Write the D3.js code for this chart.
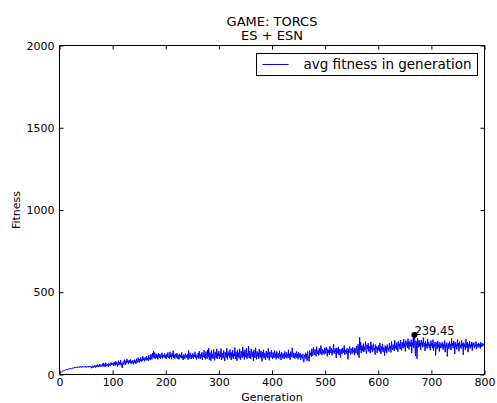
<!DOCTYPE html>
<html>
<head>
<meta charset="utf-8">
<script src="https://cdn.jsdelivr.net/npm/d3@7"></script>
<style>
  html, body { margin: 0; padding: 0; background: #fff; }
  svg text { font-family: "DejaVu Sans", sans-serif; fill: #000; }
</style>
</head>
<body>
<svg id="chart" width="497" height="403"></svg>
<script>
// Average fitness per generation (generations 0..799)
const fitness = [
  2, 8, 12, 15, 14, 19, 22, 20, 25, 24, 27, 29, 26, 31, 30, 28, 33, 35, 31, 36,
  34, 38, 36, 33, 39, 41, 37, 40, 44, 39, 42, 46, 41, 45, 43, 48, 44, 47, 42, 49,
  45, 48, 43, 50, 46, 44, 49, 47, 52, 45, 48, 43, 50, 47, 51, 44, 49, 46, 52, 48,
  38, 47, 53, 41, 50, 44, 55, 48, 42, 57, 46, 52, 60, 45, 55, 49, 63, 51, 47, 58,
  54, 66, 48, 70, 52, 61, 45, 72, 56, 50, 64, 58, 47, 68, 55, 62, 51, 74, 59, 66,
  58, 70, 52, 77, 63, 55, 81, 60, 72, 49, 67, 84, 57, 74, 62, 88, 55, 70, 40, 66,
  78, 60, 90, 72, 58, 84, 68, 95, 74, 82, 63, 88, 76, 70, 92, 66, 80, 73, 86, 62,
  78, 90, 70, 84, 65, 96, 80, 74, 102, 86, 72, 94, 82, 105, 78, 90, 84, 110, 88, 96,
  80, 104, 92, 86, 112, 90, 99, 84, 118, 94, 102, 88, 124, 100, 92, 130, 106, 142, 98, 134,
  110, 96, 126, 102, 118, 92, 130, 108, 100, 124, 96, 114, 106, 132, 98, 120, 110, 104, 128, 100,
  116, 94, 124, 108, 134, 100, 112, 98, 138, 106, 120, 92, 128, 110, 144, 102, 118, 96, 126, 112,
  104, 130, 96, 120, 110, 92, 126, 106, 116, 100, 134, 98, 112, 88, 122, 108, 96, 128, 104, 118,
  100, 124, 90, 146, 108, 98, 132, 112, 94, 120, 104, 128, 96, 116, 108, 138, 100, 122, 92, 114,
  106, 130, 98, 142, 110, 94, 124, 104, 136, 88, 118, 108, 148, 100, 126, 92, 140, 114, 96, 150,
  108, 160, 90, 134, 118, 84, 146, 104, 124, 96, 152, 110, 86, 138, 120, 100, 156, 94, 128, 112,
  142, 96, 124, 108, 158, 88, 130, 116, 98, 146, 110, 82, 136, 120, 104, 160, 92, 128, 114, 140,
  100, 152, 118, 88, 134, 106, 148, 96, 126, 112, 164, 94, 138, 120, 84, 150, 108, 132, 98, 156,
  116, 90, 142, 126, 102, 168, 110, 136, 92, 150, 120, 104, 160, 96, 130, 114, 172, 100, 142, 118,
  94, 156, 124, 108, 138, 84, 148, 116, 100, 162, 126, 92, 140, 110, 132, 96, 154, 118, 104, 144,
  122, 80, 136, 110, 150, 98, 128, 116, 90, 142, 108, 132, 100, 158, 114, 86, 138, 120, 104, 148,
  112, 94, 134, 118, 100, 146, 108, 126, 92, 140, 116, 102, 130, 96, 144, 110, 122, 88, 136, 114,
  100, 128, 108, 94, 140, 118, 104, 134, 98, 122, 112, 150, 100, 126, 90, 138, 116, 106, 162, 120,
  102, 132, 114, 96, 128, 108, 140, 100, 124, 92, 136, 112, 104, 130, 88, 120, 110, 98, 126, 80,
  74, 118, 104, 132, 96, 124, 84, 140, 112, 100, 80, 146, 118, 130, 108, 156, 122, 114, 166, 128,
  120, 152, 132, 110, 170, 138, 124, 148, 116, 160, 134, 126, 176, 140, 118, 154, 130, 146, 122, 162,
  138, 128, 166, 144, 110, 156, 132, 148, 120, 172, 140, 130, 160, 116, 150, 136, 184, 126, 146, 158,
  134, 100, 162, 142, 128, 168, 118, 152, 140, 104, 156, 136, 124, 162, 146, 132, 176, 120, 150, 138,
  126, 160, 144, 92, 154, 132, 170, 140, 122, 158, 146, 128, 166, 136, 150, 118, 162, 140, 130, 172,
  148, 120, 184, 138, 102, 226, 150, 196, 130, 176, 160, 142, 188, 136, 168, 152, 200, 144, 126, 180,
  156, 190, 140, 172, 162, 130, 198, 150, 176, 136, 166, 188, 146, 160, 120, 182, 154, 170, 132, 164,
  150, 178, 140, 192, 158, 126, 170, 148, 186, 136, 164, 154, 114, 176, 144, 168, 132, 182, 150, 162,
  140, 190, 156, 172, 134, 200, 162, 150, 182, 170, 144, 208, 160, 176, 152, 194, 166, 138, 204, 172,
  186, 154, 210, 170, 146, 196, 178, 160, 216, 168, 188, 140, 206, 176, 194, 162, 218, 180, 152, 200,
  184, 170, 212, 130, 196, 176, 222, 162, 239.45, 190, 112, 204, 178, 96, 220, 186, 164, 208, 172, 194,
  150, 210, 180, 196, 166, 224, 176, 190, 144, 202, 170, 186, 158, 214, 174, 196, 162, 184, 148, 206,
  176, 190, 160, 212, 146, 184, 170, 198, 116, 178, 194, 156, 204, 168, 182, 140, 196, 174, 160, 188,
  170, 198, 150, 184, 162, 206, 136, 180, 168, 194, 110, 176, 188, 156, 200, 170, 184, 148, 218, 176,
  190, 160, 204, 178, 124, 196, 168, 186, 152, 212, 174, 190, 140, 200, 166, 180, 158, 208, 172, 188,
  120, 194, 170, 182, 150, 214, 176, 162, 196, 136, 186, 172, 204, 158, 182, 168, 198, 146, 188, 176,
  194, 160, 180, 170, 200, 154, 186, 176, 164, 192, 172, 184, 158, 196, 178, 168, 190, 174, 186, 180
];

const xTicks = [0, 100, 200, 300, 400, 500, 600, 700, 800];
const yTicks = [0, 500, 1000, 1500, 2000];
const titleLines = ["GAME: TORCS", "ES + ESN"];
const seriesLabel = "avg fitness in generation";

const svg = d3.select("#chart");
const margin = { left: 59.5, right: 484.5, top: 45.5, bottom: 374.5 };

const x = d3.scaleLinear().domain([0, 800]).range([margin.left, margin.right]);
const y = d3.scaleLinear().domain([0, 2000]).range([margin.bottom, margin.top]);

// Series line
const line = d3.line()
  .x((d, i) => x(i))
  .y(d => y(d));

svg.append("path")
  .datum(fitness)
  .attr("d", line)
  .attr("fill", "none")
  .attr("stroke", "#0000ff")
  .attr("stroke-width", 1)
  .attr("stroke-linejoin", "round");

// Best generation marker
const bestIdx = d3.maxIndex(fitness);
const bestVal = fitness[bestIdx];
svg.append("circle")
  .attr("cx", x(bestIdx))
  .attr("cy", y(bestVal))
  .attr("r", 3)
  .attr("fill", "#000");
svg.append("text")
  .attr("x", x(bestIdx))
  .attr("y", y(bestVal))
  .attr("font-size", 11.5)
  .text(bestVal.toFixed(2));

// Axes (ticks point inward on all four sides)
const fmt = d3.format("d");
const tickLen = 4;
svg.append("g")
  .attr("transform", `translate(0,${margin.bottom})`)
  .call(d3.axisBottom(x).tickValues(xTicks).tickFormat(fmt).tickSizeInner(-tickLen).tickSizeOuter(0).tickPadding(4))
  .call(g => g.select(".domain").remove());
svg.append("g")
  .attr("transform", `translate(0,${margin.top})`)
  .call(d3.axisTop(x).tickValues(xTicks).tickFormat("").tickSizeInner(-tickLen).tickSizeOuter(0))
  .call(g => g.select(".domain").remove());
svg.append("g")
  .attr("transform", `translate(${margin.left},0)`)
  .call(d3.axisLeft(y).tickValues(yTicks).tickFormat(fmt).tickSizeInner(-tickLen).tickSizeOuter(0).tickPadding(5))
  .call(g => g.select(".domain").remove());
svg.append("g")
  .attr("transform", `translate(${margin.right},0)`)
  .call(d3.axisRight(y).tickValues(yTicks).tickFormat("").tickSizeInner(-tickLen).tickSizeOuter(0))
  .call(g => g.select(".domain").remove());

svg.selectAll(".tick text")
  .attr("font-family", "DejaVu Sans, sans-serif")
  .attr("font-size", 11)
  .attr("fill", "#000");
svg.selectAll(".tick line").attr("stroke", "#000");

// Plot frame
svg.append("rect")
  .attr("x", margin.left)
  .attr("y", margin.top)
  .attr("width", margin.right - margin.left)
  .attr("height", margin.bottom - margin.top)
  .attr("fill", "none")
  .attr("stroke", "#000")
  .attr("stroke-width", 1);

// Title
svg.append("g").selectAll("text")
  .data(titleLines)
  .join("text")
  .attr("x", (margin.left + margin.right) / 2)
  .attr("y", (d, i) => 26 + i * 14)
  .attr("text-anchor", "middle")
  .attr("font-size", 13)
  .text(d => d);

// Axis labels
svg.append("text")
  .attr("x", (margin.left + margin.right) / 2)
  .attr("y", 401)
  .attr("text-anchor", "middle")
  .attr("font-size", 11)
  .text("Generation");
svg.append("text")
  .attr("transform", `translate(20,${(margin.top + margin.bottom) / 2}) rotate(-90)`)
  .attr("text-anchor", "middle")
  .attr("font-size", 11)
  .text("Fitness");

// Legend
const lg = svg.append("g").attr("transform", "translate(256.5,53.5)");
lg.append("rect")
  .attr("width", 221)
  .attr("height", 22)
  .attr("fill", "#fff")
  .attr("stroke", "#000");
lg.append("line")
  .attr("x1", 6).attr("x2", 32)
  .attr("y1", 11).attr("y2", 11)
  .attr("stroke", "#0000ff");
lg.append("text")
  .attr("x", 47)
  .attr("y", 15.5)
  .attr("font-size", 13.5)
  .text(seriesLabel);
</script>
</body>
</html>
